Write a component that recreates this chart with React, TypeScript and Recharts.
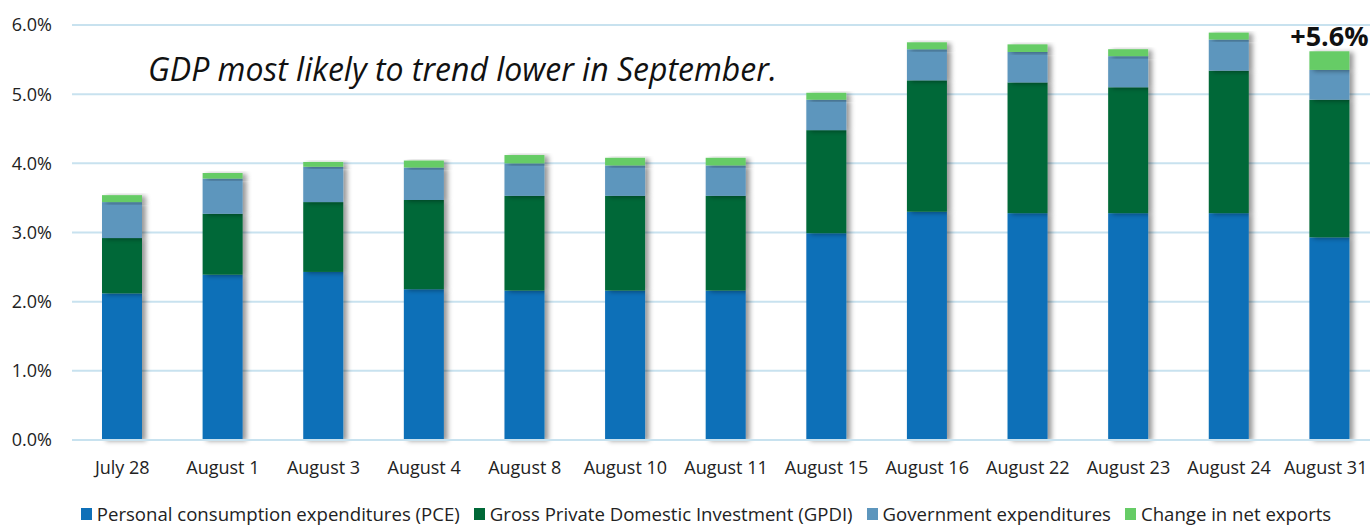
import React from 'react';
import { BarChart, Bar, XAxis, YAxis, CartesianGrid, Legend, LabelList } from 'recharts';

const categories = [
  'July 28', 'August 1', 'August 3', 'August 4', 'August 8', 'August 10', 'August 11',
  'August 15', 'August 16', 'August 22', 'August 23', 'August 24', 'August 31',
];
const pce = [2.12, 2.39, 2.43, 2.18, 2.16, 2.16, 2.16, 2.99, 3.30, 3.28, 3.28, 3.28, 2.93];
const gpdi = [0.80, 0.88, 1.01, 1.29, 1.37, 1.37, 1.37, 1.49, 1.90, 1.89, 1.82, 2.06, 1.99];
const gov = [0.52, 0.51, 0.51, 0.47, 0.47, 0.44, 0.44, 0.44, 0.45, 0.44, 0.45, 0.45, 0.43];
const netExports = [0.10, 0.08, 0.07, 0.10, 0.12, 0.11, 0.11, 0.10, 0.10, 0.11, 0.10, 0.10, 0.27];
const topLabels = ['', '', '', '', '', '', '', '', '', '', '', '', '+5.6%'];
const yTicks = [0, 1, 2, 3, 4, 5, 6];
const boundaryTicks = [0, 1, 2, 3, 4, 5, 6, 7, 8, 9, 10, 11, 12, 13];

const series = [
  { key: 'pce', name: 'Personal consumption expenditures (PCE)', color: '#0f70b8' },
  { key: 'gpdi', name: 'Gross Private Domestic Investment (GPDI)', color: '#006837' },
  { key: 'gov', name: 'Government expenditures', color: '#5d96bd' },
  { key: 'net', name: 'Change in net exports', color: '#66cc66' },
];

const data = categories.map((c, i) => ({
  name: c,
  pce: pce[i],
  gpdi: gpdi[i],
  gov: gov[i],
  net: netExports[i],
  label: topLabels[i],
}));

const FONT = '"Open Sans", sans-serif';
const GRID = '#c8e2ef';

const ShadowBar = (props: any) => {
  const { x, y, width, height, fill } = props;
  if (!height || height <= 0) return null;
  return <rect x={x} y={y} width={width} height={height} fill={fill} filter="url(#barShadow)" />;
};

const TopLabel = (props: any) => {
  const { x, y, width, value } = props;
  if (!value) return null;
  return (
    <text x={x + width / 2} y={y - 5} textAnchor="middle" fontFamily={FONT} fontSize={27} fontWeight={700} fill="#111">
      {value}
    </text>
  );
};

// last label sits a little left so it stays inside the frame
const CategoryTick = (props: any) => {
  const { x, y, payload, index } = props;
  const shift = index === categories.length - 1 ? -4 : 0;
  return (
    <text x={x + shift} y={y} dy="0.71em" textAnchor="middle" fontFamily={FONT} fontSize={18} fill="#222">
      {payload.value}
    </text>
  );
};

const LegendContent = () => (
  <div style={{ display: 'flex', justifyContent: 'center', paddingTop: 14, paddingLeft: 46, fontFamily: FONT, fontSize: 18.6, color: '#222', lineHeight: '20px', whiteSpace: 'nowrap' }}>
    {series.map((s) => (
      <div key={s.key} style={{ display: 'flex', alignItems: 'center', marginRight: 14 }}>
        <span style={{ display: 'inline-block', width: 11, height: 12, background: s.color, marginRight: 5 }} />
        <span>{s.name}</span>
      </div>
    ))}
  </div>
);

export default function App() {
  return (
    <div style={{ position: 'absolute', left: 0, top: 0, width: 1370, height: 525, overflow: 'hidden', background: '#fff' }}>
      <svg width={0} height={0} style={{ position: 'absolute' }}>
        <defs>
          <filter id="barShadow" x="-20%" y="-20%" width="150%" height="150%">
            <feDropShadow dx={4} dy={1} stdDeviation={2.5} floodColor="#000" floodOpacity={0.4} />
          </filter>
        </defs>
      </svg>
      <BarChart width={1390} height={525} data={data} margin={{ top: 25, right: 10, left: 0, bottom: 0 }}>
        <CartesianGrid vertical={false} stroke={GRID} strokeWidth={2} />
        <XAxis
          xAxisId="bounds"
          type="number"
          domain={[0, 13]}
          ticks={boundaryTicks}
          allowDataOverflow
          height={0}
          tick={false}
          axisLine={false}
          tickSize={6}
          tickLine={{ stroke: GRID, strokeWidth: 2 }}
        />
        <XAxis
          xAxisId="cat"
          dataKey="name"
          height={50}
          axisLine={{ stroke: GRID, strokeWidth: 2 }}
          tickLine={false}
          tickSize={0}
          tickMargin={21}
          interval={0}
          tick={<CategoryTick />}
        />
        <YAxis
          width={72}
          domain={[0, 6]}
          ticks={yTicks}
          tickFormatter={(v: number) => `${v.toFixed(1)}%`}
          axisLine={false}
          tickLine={false}
          tickSize={0}
          tickMargin={20}
          tick={{ fill: '#222', fontSize: 18, fontFamily: FONT }}
        />
        <Legend verticalAlign="bottom" height={35} content={<LegendContent />} />
        {series.map((s, idx) => (
          <Bar
            key={s.key}
            xAxisId="cat"
            dataKey={s.key}
            name={s.name}
            stackId="gdp"
            fill={s.color}
            barSize={40}
            shape={<ShadowBar />}
            isAnimationActive={false}
          >
            {idx === series.length - 1 && <LabelList dataKey="label" content={<TopLabel />} />}
          </Bar>
        ))}
      </BarChart>
      <div style={{ position: 'absolute', left: 148, top: 49, fontFamily: FONT, fontStyle: 'italic', fontSize: 32, color: '#111', whiteSpace: 'nowrap', lineHeight: '40px' }}>
        GDP most likely to trend lower in September.
      </div>
    </div>
  );
}
